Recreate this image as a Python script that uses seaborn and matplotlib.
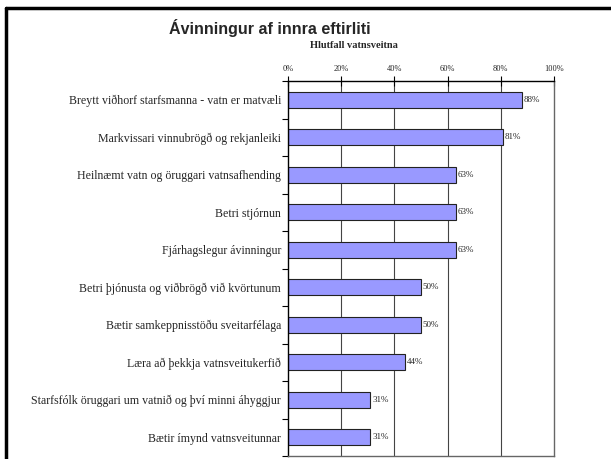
import pandas as pd
import matplotlib.pyplot as plt
import seaborn as sns
from matplotlib.lines import Line2D

# Data
categories = [
    "Breytt viðhorf starfsmanna - vatn er matvæli",
    "Markvissari vinnubrögð og rekjanleiki",
    "Heilnæmt vatn og öruggari vatnsafhending",
    "Betri stjórnun",
    "Fjárhagslegur ávinningur",
    "Betri þjónusta og viðbrögð við kvörtunum",
    "Bætir samkeppnisstöðu sveitarfélaga",
    "Læra að þekkja vatnsveitukerfið",
    "Starfsfólk öruggari um vatnið og því minni áhyggjur",
    "Bætir ímynd vatnsveitunnar",
]
values = [88, 81, 63, 63, 63, 50, 50, 44, 31, 31]
tick_values = [0, 20, 40, 60, 80, 100]
tick_labels = ["0%", "20%", "40%", "60%", "80%", "100%"]

df = pd.DataFrame({"Ávinningur": categories, "Hlutfall": values})

sns.set_style("white")
plt.rcParams["font.family"] = ["Liberation Serif", "DejaVu Serif"]

fig = plt.figure(figsize=(6.11, 4.59), dpi=100)
ax = fig.add_axes([288 / 611, 1 - 456 / 459, 266 / 611, 375 / 459])

sns.barplot(data=df, x="Hlutfall", y="Ávinningur", color="#9999FF",
            edgecolor="#222222", linewidth=0.8, width=0.42, saturation=1, ax=ax)

ax.set_xlim(0, 100)
ax.set_ylim(len(categories) - 0.5, -0.5)

# top axis with ticks
ax.xaxis.tick_top()
ax.set_xticks(tick_values)
ax.set_xticklabels(tick_labels, fontsize=6)
ax.tick_params(axis="x", direction="inout", length=7, width=0.8, pad=2, color="black")
ax.set_xlabel("")
ax.set_ylabel("")
fig.text(354 / 611, 1 - 46 / 459, "Hlutfall vatnsveitna", ha="center", va="center",
         fontsize=7.5, fontweight="bold")

# vertical grid
for v in tick_values[1:-1]:
    ax.axvline(v, color="#444444", lw=0.8, zorder=0)

# y ticks at category boundaries
ax.set_yticks(range(len(categories)))
ax.set_yticklabels(categories, fontsize=8.6)
ax.set_yticks([i - 0.5 for i in range(len(categories) + 1)], minor=True)
ax.tick_params(axis="y", which="major", length=0, pad=5)
ax.tick_params(axis="y", which="minor", direction="out", length=4, width=0.8, color="black", left=True)

for s in ["top", "left"]:
    ax.spines[s].set_color("black")
    ax.spines[s].set_linewidth(1.0)
for s in ["right", "bottom"]:
    ax.spines[s].set_color("#666666")
    ax.spines[s].set_linewidth(1.0)
    ax.spines[s].set_visible(True)

# value labels
for i, v in enumerate(values):
    ax.text(v + 0.6, i, f"{v}%", va="center", ha="left", fontsize=6.5)

# title
fig.text(270 / 611, 1 - 28 / 459, "Ávinningur af innra eftirliti", ha="center", va="center",
         fontsize=11.5, fontweight="bold", family=["Liberation Sans", "DejaVu Sans"])

# outer frame (cropped)
fig.add_artist(Line2D([6 / 611, 1], [1 - 8 / 459, 1 - 8 / 459], color="black", lw=2.5,
                      transform=fig.transFigure))
fig.add_artist(Line2D([6 / 611, 6 / 611], [0, 1 - 8 / 459], color="black", lw=2.5,
                      transform=fig.transFigure))

fig.savefig("out.png", dpi=100)
